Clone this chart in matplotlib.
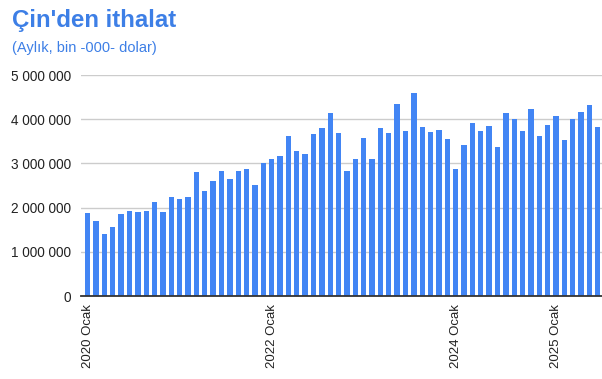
import matplotlib
matplotlib.use("Agg")
import matplotlib.pyplot as plt
from matplotlib.ticker import FuncFormatter

plt.rcParams['font.family'] = ['Liberation Sans', 'DejaVu Sans']

# Monthly imports from China (thousand USD)
values = [
    1870000, 1700000, 1400000, 1550000, 1855000, 1920000, 1900000, 1920000,
    2130000, 1900000, 2230000, 2190000, 2230000, 2800000, 2375000, 2610000,
    2830000, 2640000, 2830000, 2870000, 2520000, 3020000, 3090000, 3160000,
    3610000, 3290000, 3210000, 3665000, 3790000, 4140000, 3690000, 2830000,
    3110000, 3570000, 3090000, 3790000, 3690000, 4340000, 3730000, 4590000,
    3830000, 3720000, 3760000, 3545000, 2880000, 3420000, 3910000, 3730000,
    3850000, 3380000, 4150000, 4000000, 3740000, 4240000, 3610000, 3880000,
    4070000, 3520000, 4000000, 4170000, 4310000, 3820000,
]
tick_index = [0, 22, 44, 56]
tick_labels = ["2020 Ocak", "2022 Ocak", "2024 Ocak", "2025 Ocak"]
y_ticks = [0, 1000000, 2000000, 3000000, 4000000, 5000000]

title = "Çin'den ithalat"
subtitle = "(Aylık, bin -000- dolar)"

blue = "#4285F4"
title_blue = "#3D7FE6"

fig = plt.figure(figsize=(6.02, 3.79), dpi=100)
ax = fig.add_axes([81/602, 1 - 296/379, 1 - 81/602, (296 - 75)/379])

x = list(range(len(values)))
ax.bar(x, values, width=0.64, color=blue, zorder=3)

ax.set_xlim(-0.8, len(values) - 0.5)
ax.set_ylim(0, 5000000)
ax.set_yticks(y_ticks)
ax.yaxis.set_major_formatter(FuncFormatter(lambda v, p: f"{int(v):,}".replace(",", " ")))
ax.set_xticks(tick_index)
ax.set_xticklabels(tick_labels, rotation=90, va='top', ha='center')

ax.grid(axis='y', color='#cccccc', linewidth=1.0, zorder=0)
ax.set_axisbelow(True)
for s in ['top', 'right', 'left']:
    ax.spines[s].set_visible(False)
ax.spines['bottom'].set_color('#333333')
ax.spines['bottom'].set_linewidth(1.3)
ax.spines['bottom'].set_zorder(4)
ax.tick_params(axis='both', length=0, labelsize=9.8, colors='#222222')
ax.tick_params(axis='y', pad=7)
ax.tick_params(axis='x', pad=6, labelsize=9.5)

fig.text(12/602, 1 - 27/379, title, fontsize=17.3, fontweight='bold',
         color=title_blue, ha='left', va='baseline')
fig.text(12/602, 1 - 52/379, subtitle, fontsize=10.5, color=title_blue,
         ha='left', va='baseline')

fig.savefig("out.png", dpi=100)
